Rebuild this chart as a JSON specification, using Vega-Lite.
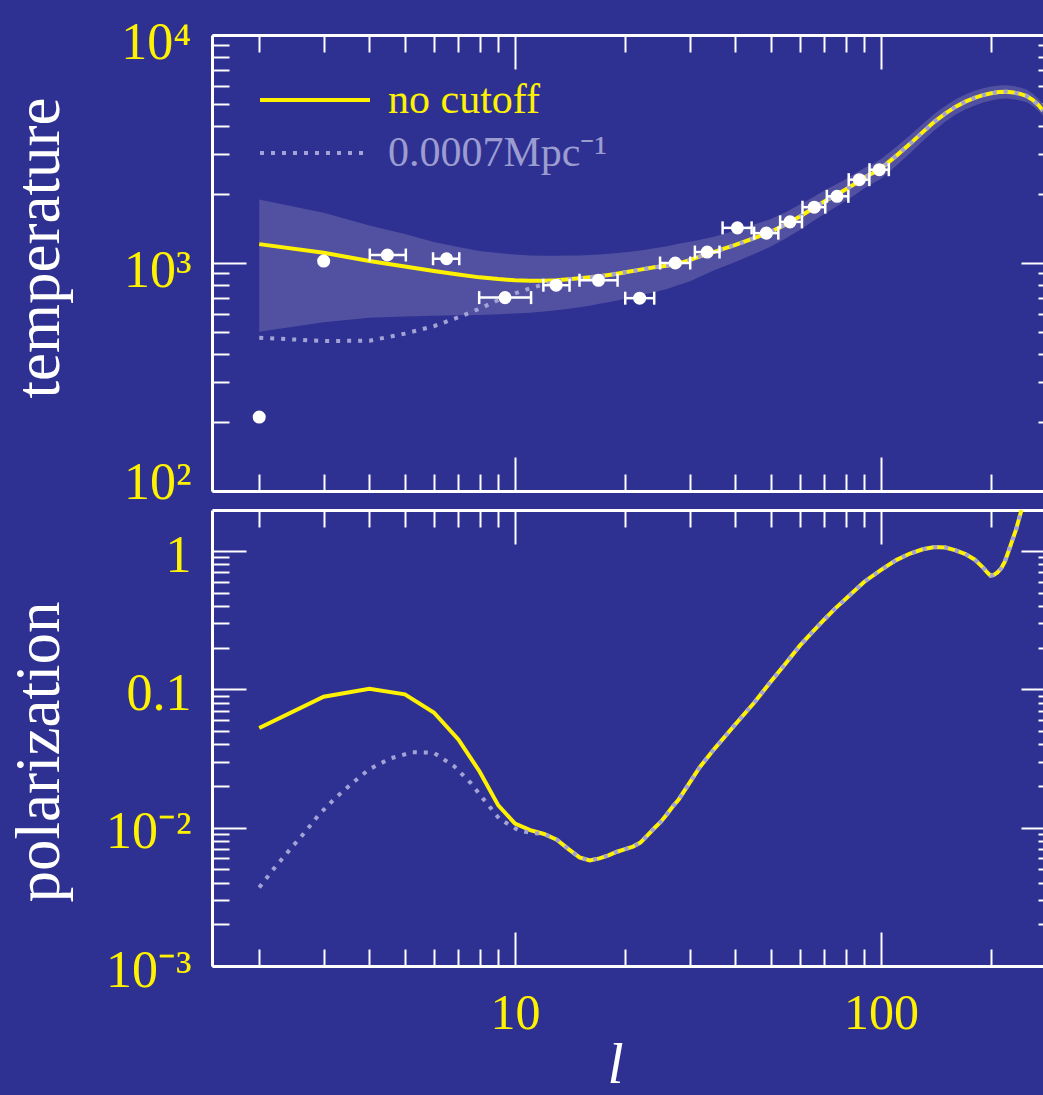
{
  "$schema": "https://vega.github.io/schema/vega-lite/v6.json",
  "background": "#2e3192",
  "autosize": {"type": "none"},
  "padding": {"left": 212, "top": 35, "right": 0, "bottom": 129},
  "width": 831,
  "height": 931,
  "config": {
    "view": {"stroke": null},
    "axis": {"tickColor": "#ffffff", "tickWidth": 2, "domainColor": "#ffffff", "domainWidth": 3, "grid": false, "labels": false}
  },
  "datasets": {
    "top": [
      {"l": 2, "nocut": 1210, "cut": 470, "lo": 500, "hi": 1900},
      {"l": 3, "nocut": 1110, "cut": 455, "lo": 550, "hi": 1660},
      {"l": 4, "nocut": 1020, "cut": 456, "lo": 575, "hi": 1460},
      {"l": 5, "nocut": 965, "cut": 490, "lo": 582, "hi": 1340},
      {"l": 6, "nocut": 923, "cut": 528, "lo": 587, "hi": 1235},
      {"l": 7, "nocut": 890, "cut": 578, "lo": 590, "hi": 1175},
      {"l": 8, "nocut": 865, "cut": 630, "lo": 592, "hi": 1130},
      {"l": 9, "nocut": 850, "cut": 688, "lo": 596, "hi": 1105},
      {"l": 10, "nocut": 840, "cut": 735, "lo": 600, "hi": 1090},
      {"l": 11, "nocut": 836, "cut": 775, "lo": 605, "hi": 1080},
      {"l": 12, "nocut": 835, "cut": 805, "lo": 612, "hi": 1076},
      {"l": 13, "nocut": 840, "cut": 830, "lo": 620, "hi": 1076},
      {"l": 14, "nocut": 848, "cut": 847, "lo": 630, "hi": 1078},
      {"l": 15, "nocut": 857, "cut": 857, "lo": 640, "hi": 1080},
      {"l": 16, "nocut": 866, "cut": 866, "lo": 650, "hi": 1085},
      {"l": 17, "nocut": 875, "cut": 875, "lo": 662, "hi": 1090},
      {"l": 18, "nocut": 886, "cut": 886, "lo": 673, "hi": 1098},
      {"l": 19, "nocut": 898, "cut": 898, "lo": 685, "hi": 1106},
      {"l": 20, "nocut": 910, "cut": 910, "lo": 697, "hi": 1115},
      {"l": 22, "nocut": 935, "cut": 935, "lo": 720, "hi": 1135},
      {"l": 24, "nocut": 958, "cut": 958, "lo": 745, "hi": 1160},
      {"l": 26, "nocut": 972, "cut": 972, "lo": 770, "hi": 1185},
      {"l": 28, "nocut": 997, "cut": 997, "lo": 800, "hi": 1215},
      {"l": 30, "nocut": 1030, "cut": 1030, "lo": 830, "hi": 1240},
      {"l": 32, "nocut": 1068, "cut": 1068, "lo": 870, "hi": 1265},
      {"l": 35, "nocut": 1120, "cut": 1120, "lo": 930, "hi": 1305},
      {"l": 40, "nocut": 1200, "cut": 1200, "lo": 1010, "hi": 1390},
      {"l": 45, "nocut": 1285, "cut": 1285, "lo": 1095, "hi": 1475},
      {"l": 50, "nocut": 1370, "cut": 1370, "lo": 1180, "hi": 1560},
      {"l": 55, "nocut": 1480, "cut": 1480, "lo": 1285, "hi": 1675},
      {"l": 60, "nocut": 1600, "cut": 1600, "lo": 1395, "hi": 1805},
      {"l": 65, "nocut": 1730, "cut": 1730, "lo": 1520, "hi": 1940},
      {"l": 70, "nocut": 1860, "cut": 1860, "lo": 1640, "hi": 2080},
      {"l": 75, "nocut": 1980, "cut": 1980, "lo": 1755, "hi": 2205},
      {"l": 80, "nocut": 2100, "cut": 2100, "lo": 1870, "hi": 2330},
      {"l": 85, "nocut": 2230, "cut": 2230, "lo": 1990, "hi": 2470},
      {"l": 90, "nocut": 2370, "cut": 2370, "lo": 2130, "hi": 2610},
      {"l": 95, "nocut": 2480, "cut": 2480, "lo": 2240, "hi": 2720},
      {"l": 100, "nocut": 2600, "cut": 2600, "lo": 2340, "hi": 2860},
      {"l": 110, "nocut": 2950, "cut": 2950, "lo": 2670, "hi": 3230},
      {"l": 120, "nocut": 3330, "cut": 3330, "lo": 3030, "hi": 3630},
      {"l": 130, "nocut": 3750, "cut": 3750, "lo": 3430, "hi": 4070},
      {"l": 140, "nocut": 4170, "cut": 4170, "lo": 3820, "hi": 4520},
      {"l": 150, "nocut": 4530, "cut": 4530, "lo": 4170, "hi": 4890},
      {"l": 160, "nocut": 4850, "cut": 4850, "lo": 4480, "hi": 5220},
      {"l": 170, "nocut": 5100, "cut": 5100, "lo": 4710, "hi": 5490},
      {"l": 180, "nocut": 5300, "cut": 5300, "lo": 4900, "hi": 5700},
      {"l": 190, "nocut": 5450, "cut": 5450, "lo": 5060, "hi": 5840},
      {"l": 200, "nocut": 5550, "cut": 5550, "lo": 5160, "hi": 5940},
      {"l": 210, "nocut": 5620, "cut": 5620, "lo": 5240, "hi": 6000},
      {"l": 220, "nocut": 5640, "cut": 5640, "lo": 5260, "hi": 6020},
      {"l": 230, "nocut": 5600, "cut": 5600, "lo": 5230, "hi": 5970},
      {"l": 240, "nocut": 5520, "cut": 5520, "lo": 5160, "hi": 5880},
      {"l": 250, "nocut": 5400, "cut": 5400, "lo": 5070, "hi": 5760},
      {"l": 260, "nocut": 5180, "cut": 5180, "lo": 4880, "hi": 5520},
      {"l": 270, "nocut": 4900, "cut": 4900, "lo": 4630, "hi": 5220},
      {"l": 277, "nocut": 4650, "cut": 4650, "lo": 4420, "hi": 4960}
    ],
    "pts": [
      {"l": 2, "T": 211},
      {"l": 3, "T": 1020},
      {"l": 4.48, "T": 1084, "lo": 4.01, "hi": 5.03},
      {"l": 6.5, "T": 1044, "lo": 5.97, "hi": 7.04},
      {"l": 9.39, "T": 705, "lo": 7.98, "hi": 11.06},
      {"l": 12.95, "T": 799, "lo": 11.95, "hi": 14.09},
      {"l": 16.9, "T": 840, "lo": 15.0, "hi": 19.06},
      {"l": 21.9, "T": 701, "lo": 20.0, "hi": 24.0},
      {"l": 27.4, "T": 1000, "lo": 24.9, "hi": 30.1},
      {"l": 33.5, "T": 1117, "lo": 31.0, "hi": 36.2},
      {"l": 40.5, "T": 1426, "lo": 36.9, "hi": 44.3},
      {"l": 48.6, "T": 1352, "lo": 45.0, "hi": 52.4},
      {"l": 56.4, "T": 1515, "lo": 53.0, "hi": 60.8},
      {"l": 65.7, "T": 1757, "lo": 61.0, "hi": 70.4},
      {"l": 75.8, "T": 1961, "lo": 71.1, "hi": 81.4},
      {"l": 87.2, "T": 2320, "lo": 81.6, "hi": 92.9},
      {"l": 98.9, "T": 2566, "lo": 93.0, "hi": 105}
    ],
    "by": [
      {"l": 2, "P": 0.0525}, {"l": 3, "P": 0.0885}, {"l": 4, "P": 0.101}, {"l": 5, "P": 0.092},
      {"l": 6, "P": 0.068}, {"l": 7, "P": 0.0434}, {"l": 8, "P": 0.0255}, {"l": 9, "P": 0.0145},
      {"l": 10, "P": 0.0107}, {"l": 11, "P": 0.0096}, {"l": 12, "P": 0.009}, {"l": 13, "P": 0.0082},
      {"l": 14, "P": 0.007}, {"l": 15, "P": 0.0061}, {"l": 16, "P": 0.0058}, {"l": 17, "P": 0.006},
      {"l": 18, "P": 0.0063}, {"l": 19, "P": 0.0067}, {"l": 20, "P": 0.007}, {"l": 21, "P": 0.0073},
      {"l": 22, "P": 0.0078}, {"l": 23, "P": 0.0088}, {"l": 24, "P": 0.0099}, {"l": 25, "P": 0.011},
      {"l": 26, "P": 0.0125}, {"l": 27, "P": 0.0143}, {"l": 28, "P": 0.016}, {"l": 30, "P": 0.0212},
      {"l": 32, "P": 0.0275}, {"l": 35, "P": 0.037}, {"l": 40, "P": 0.056}, {"l": 45, "P": 0.08},
      {"l": 50, "P": 0.114}, {"l": 55, "P": 0.155}, {"l": 60, "P": 0.207}, {"l": 65, "P": 0.26},
      {"l": 70, "P": 0.32}, {"l": 75, "P": 0.385}, {"l": 80, "P": 0.45}, {"l": 90, "P": 0.6},
      {"l": 100, "P": 0.73}, {"l": 110, "P": 0.86}, {"l": 120, "P": 0.96}, {"l": 130, "P": 1.03},
      {"l": 140, "P": 1.07}, {"l": 150, "P": 1.06}, {"l": 160, "P": 1.01}, {"l": 170, "P": 0.95},
      {"l": 180, "P": 0.87}, {"l": 190, "P": 0.76}, {"l": 195, "P": 0.7}, {"l": 199, "P": 0.665},
      {"l": 203, "P": 0.67}, {"l": 208, "P": 0.7}, {"l": 213, "P": 0.75}, {"l": 218, "P": 0.84},
      {"l": 224, "P": 1.03}, {"l": 229, "P": 1.22}, {"l": 234, "P": 1.44}, {"l": 238, "P": 1.7},
      {"l": 242, "P": 1.98}
    ],
    "bd": [
      {"l": 2, "P": 0.0037}, {"l": 2.2, "P": 0.0051}, {"l": 2.42, "P": 0.0069}, {"l": 2.66, "P": 0.0092},
      {"l": 2.91, "P": 0.0124}, {"l": 3.23, "P": 0.0164}, {"l": 3.6, "P": 0.0211}, {"l": 4.0, "P": 0.0265},
      {"l": 4.58, "P": 0.0318}, {"l": 5.25, "P": 0.0351}, {"l": 6.0, "P": 0.0348}, {"l": 6.82, "P": 0.0278},
      {"l": 7.56, "P": 0.0211}, {"l": 8.29, "P": 0.0155}, {"l": 9.06, "P": 0.0116}, {"l": 10.2, "P": 0.0096},
      {"l": 11, "P": 0.0092}, {"l": 12, "P": 0.009}, {"l": 13, "P": 0.0082},
      {"l": 14, "P": 0.007}, {"l": 15, "P": 0.0061}, {"l": 16, "P": 0.0058}, {"l": 17, "P": 0.006},
      {"l": 18, "P": 0.0063}, {"l": 19, "P": 0.0067}, {"l": 20, "P": 0.007}, {"l": 21, "P": 0.0073},
      {"l": 22, "P": 0.0078}, {"l": 23, "P": 0.0088}, {"l": 24, "P": 0.0099}, {"l": 25, "P": 0.011},
      {"l": 26, "P": 0.0125}, {"l": 27, "P": 0.0143}, {"l": 28, "P": 0.016}, {"l": 30, "P": 0.0212},
      {"l": 32, "P": 0.0275}, {"l": 35, "P": 0.037}, {"l": 40, "P": 0.056}, {"l": 45, "P": 0.08},
      {"l": 50, "P": 0.114}, {"l": 55, "P": 0.155}, {"l": 60, "P": 0.207}, {"l": 65, "P": 0.26},
      {"l": 70, "P": 0.32}, {"l": 75, "P": 0.385}, {"l": 80, "P": 0.45}, {"l": 90, "P": 0.6},
      {"l": 100, "P": 0.73}, {"l": 110, "P": 0.86}, {"l": 120, "P": 0.96}, {"l": 130, "P": 1.03},
      {"l": 140, "P": 1.07}, {"l": 150, "P": 1.06}, {"l": 160, "P": 1.01}, {"l": 170, "P": 0.95},
      {"l": 180, "P": 0.87}, {"l": 190, "P": 0.76}, {"l": 195, "P": 0.7}, {"l": 199, "P": 0.665},
      {"l": 203, "P": 0.67}, {"l": 208, "P": 0.7}, {"l": 213, "P": 0.75}, {"l": 218, "P": 0.84},
      {"l": 224, "P": 1.03}, {"l": 229, "P": 1.22}, {"l": 234, "P": 1.44}, {"l": 238, "P": 1.7},
      {"l": 242, "P": 1.98}
    ]
  },
  "resolve": {
    "scale": {"x": "shared", "y": "independent", "stroke": "independent"},
    "axis": {"x": "independent", "y": "independent"},
    "legend": {"stroke": "independent"}
  },
  "layer": [
    {
      "data": {"name": "top"},
      "mark": {"type": "area", "color": "#5250a0", "opacity": 1},
      "encoding": {
        "x": {"field": "l", "type": "quantitative", "scale": {"type": "log", "domain": [1.486, 277], "nice": false},
          "axis": {"orient": "bottom", "values": [10, 100], "ticks": false, "domain": false, "labels": true,
            "labelExpr": "datum.value < 50 ? '10' : '100'", "labelFont": "Liberation Serif", "labelFontSize": 50,
            "labelColor": "#fff200", "labelPadding": 22, "labelFlush": false, "labelOverlap": false,
            "title": "l", "titleFont": "Liberation Serif", "titleFontStyle": "italic", "titleFontSize": 58,
            "titleFontWeight": "normal", "titleColor": "#ffffff", "titleX": 403, "titleY": 116,
            "titleBaseline": "alphabetic", "titleAlign": "center"}},
        "y": {"field": "lo", "type": "quantitative", "scale": {"type": "log", "domain": [100, 10000], "range": [456, 0], "nice": false},
          "axis": {"orient": "left", "values": [1000, 10000], "ticks": false, "domain": false, "labels": true,
            "labelExpr": "datum.value > 5000 ? '10⁴' : '10³'", "labelFont": "Liberation Serif", "labelFontSize": 52,
            "labelColor": "#fff200", "labelPadding": 21, "labelBaseline": "alphabetic", "labelOffset": 23,
            "labelFlush": false, "labelOverlap": false,
            "title": "temperature", "titleFont": "Liberation Serif", "titleFontSize": 63, "titleFontWeight": "normal",
            "titleColor": "#ffffff", "titleX": -154, "titleY": 212.5, "titleAngle": 270,
            "titleBaseline": "alphabetic", "titleAlign": "center"}},
        "y2": {"field": "hi"}
      }
    },
    {
      "data": {"name": "top"},
      "mark": {"type": "line", "strokeWidth": 4, "interpolate": "linear"},
      "encoding": {
        "x": {"field": "l", "type": "quantitative", "scale": {"type": "log", "domain": [1.486, 277], "nice": false},
          "axis": {"orient": "bottom", "values": [10, 100], "tickSize": -34, "domain": true, "title": null}},
        "y": {"field": "nocut", "type": "quantitative", "scale": {"type": "log", "domain": [100, 10000], "range": [456, 0], "nice": false},
          "axis": {"orient": "left", "values": [100, 1000, 10000], "tickSize": -34, "domain": true, "title": null}},
        "stroke": {"datum": "no cutoff", "type": "nominal", "scale": {"domain": ["no cutoff"], "range": ["#fff200"]},
          "legend": {"orient": "none", "legendX": 46, "legendY": 8, "title": null, "symbolType": "stroke",
            "symbolSize": 12100, "symbolStrokeWidth": 4, "labelFont": "Liberation Serif", "labelFontSize": 42,
            "labelColor": "#fff200", "labelOffset": 16, "padding": 0, "labelLimit": 0}}
      }
    },
    {
      "data": {"name": "top"},
      "mark": {"type": "line", "strokeWidth": 4, "strokeDash": [4, 7], "interpolate": "linear"},
      "encoding": {
        "x": {"field": "l", "type": "quantitative", "scale": {"type": "log", "domain": [1.486, 277], "nice": false},
          "axis": {"orient": "bottom", "values": [2, 3, 4, 5, 6, 7, 8, 9, 20, 30, 40, 50, 60, 70, 80, 90, 200], "tickSize": -17, "domain": false, "title": null}},
        "y": {"field": "cut", "type": "quantitative", "scale": {"type": "log", "domain": [100, 10000], "range": [456, 0], "nice": false},
          "axis": {"orient": "left", "values": [200, 300, 400, 500, 600, 700, 800, 900, 2000, 3000, 4000, 5000, 6000, 7000, 8000, 9000], "tickSize": -17, "domain": false, "title": null}},
        "stroke": {"datum": "0.0007Mpc⁻¹", "type": "nominal", "scale": {"domain": ["0.0007Mpc⁻¹"], "range": ["#a3a3d6"]},
          "legend": {"orient": "none", "legendX": 46, "legendY": 61, "title": null, "symbolType": "stroke",
            "symbolSize": 12100, "symbolStrokeWidth": 4, "symbolDash": [4, 7], "labelFont": "Liberation Serif", "labelFontSize": 42,
            "labelColor": "#9c9cd0", "labelOffset": 16, "padding": 0, "labelLimit": 0}}
      }
    },
    {
      "data": {"name": "pts"},
      "transform": [{"filter": "isValid(datum.lo)"}],
      "mark": {"type": "rule", "color": "#ffffff", "strokeWidth": 2.5},
      "encoding": {
        "x": {"field": "lo", "type": "quantitative", "scale": {"type": "log", "domain": [1.486, 277], "nice": false},
          "axis": {"orient": "top", "values": [10, 100], "tickSize": -34, "domain": true, "title": null}},
        "x2": {"field": "hi"},
        "y": {"field": "T", "type": "quantitative", "scale": {"type": "log", "domain": [100, 10000], "range": [456, 0], "nice": false},
          "axis": {"orient": "right", "offset": 12, "values": [100, 1000, 10000], "tickSize": -34, "domain": true, "title": null}}
      }
    },
    {
      "data": {"name": "pts"},
      "transform": [{"filter": "isValid(datum.lo)"}],
      "mark": {"type": "tick", "orient": "vertical", "size": 13, "thickness": 2.5, "color": "#ffffff", "opacity": 1},
      "encoding": {
        "x": {"field": "lo", "type": "quantitative", "scale": {"type": "log", "domain": [1.486, 277], "nice": false},
          "axis": {"orient": "top", "values": [2, 3, 4, 5, 6, 7, 8, 9, 20, 30, 40, 50, 60, 70, 80, 90, 200], "tickSize": -17, "domain": false, "title": null}},
        "y": {"field": "T", "type": "quantitative", "scale": {"type": "log", "domain": [100, 10000], "range": [456, 0], "nice": false},
          "axis": {"orient": "right", "offset": 12, "values": [200, 300, 400, 500, 600, 700, 800, 900, 2000, 3000, 4000, 5000, 6000, 7000, 8000, 9000], "tickSize": -17, "domain": false, "title": null}}
      }
    },
    {
      "data": {"name": "pts"},
      "transform": [{"filter": "isValid(datum.lo)"}],
      "mark": {"type": "tick", "orient": "vertical", "size": 13, "thickness": 2.5, "color": "#ffffff", "opacity": 1},
      "encoding": {
        "x": {"field": "hi", "type": "quantitative", "scale": {"type": "log", "domain": [1.486, 277], "nice": false},
          "axis": {"orient": "bottom", "offset": -475, "values": [10, 100], "tickSize": -34, "domain": true, "title": null}},
        "y": {"field": "T", "type": "quantitative", "scale": {"type": "log", "domain": [100, 10000], "range": [456, 0], "nice": false},
          "axis": {"orient": "left", "values": [100], "ticks": false, "domain": false, "labels": true,
            "labelExpr": "'10²'", "labelFont": "Liberation Serif", "labelFontSize": 52,
            "labelColor": "#fff200", "labelPadding": 21, "labelBaseline": "alphabetic", "labelOffset": 7,
            "labelFlush": false, "labelOverlap": false, "title": null}}
      }
    },
    {
      "data": {"name": "pts"},
      "mark": {"type": "circle", "size": 170, "color": "#ffffff", "opacity": 1},
      "encoding": {
        "x": {"field": "l", "type": "quantitative", "scale": {"type": "log", "domain": [1.486, 277], "nice": false},
          "axis": {"orient": "bottom", "offset": -475, "values": [2, 3, 4, 5, 6, 7, 8, 9, 20, 30, 40, 50, 60, 70, 80, 90, 200], "tickSize": -17, "domain": false, "title": null}},
        "y": {"field": "T", "type": "quantitative", "scale": {"type": "log", "domain": [100, 10000], "range": [456, 0], "nice": false}, "axis": null}
      }
    },
    {
      "data": {"name": "by"},
      "mark": {"type": "line", "strokeWidth": 4, "color": "#fff200", "interpolate": "linear"},
      "encoding": {
        "x": {"field": "l", "type": "quantitative", "scale": {"type": "log", "domain": [1.486, 277], "nice": false},
          "axis": {"orient": "top", "offset": -475, "values": [10, 100], "tickSize": -34, "domain": true, "title": null}},
        "y": {"field": "P", "type": "quantitative", "scale": {"type": "log", "domain": [0.001, 1.98], "range": [931, 475], "nice": false},
          "axis": {"orient": "left", "values": [0.001, 0.01, 0.1, 1], "ticks": false, "domain": false, "labels": true,
            "labelExpr": "datum.value > 0.5 ? '1' : datum.value > 0.05 ? '0.1' : datum.value > 0.005 ? '10⁻²' : '10⁻³'",
            "labelFont": "Liberation Serif", "labelFontSize": 52,
            "labelColor": "#fff200", "labelPadding": 21, "labelBaseline": "alphabetic", "labelOffset": 20,
            "labelFlush": false, "labelOverlap": false,
            "title": "polarization", "titleFont": "Liberation Serif", "titleFontSize": 63, "titleFontWeight": "normal",
            "titleColor": "#ffffff", "titleX": -154, "titleY": 716.5, "titleAngle": 270,
            "titleBaseline": "alphabetic", "titleAlign": "center"}}
      }
    },
    {
      "data": {"name": "bd"},
      "mark": {"type": "line", "strokeWidth": 4, "strokeDash": [4, 7], "color": "#a3a3d6", "interpolate": "linear"},
      "encoding": {
        "x": {"field": "l", "type": "quantitative", "scale": {"type": "log", "domain": [1.486, 277], "nice": false},
          "axis": {"orient": "top", "offset": -475, "values": [2, 3, 4, 5, 6, 7, 8, 9, 20, 30, 40, 50, 60, 70, 80, 90, 200], "tickSize": -17, "domain": false, "title": null}},
        "y": {"field": "P", "type": "quantitative", "scale": {"type": "log", "domain": [0.001, 1.98], "range": [931, 475], "nice": false},
          "axis": {"orient": "left", "values": [0.001, 0.01, 0.1, 1], "tickSize": -34, "domain": true, "title": null}}
      }
    },
    {
      "data": {"name": "by"},
      "mark": {"type": "point", "opacity": 0},
      "encoding": {
        "x": {"field": "l", "type": "quantitative", "scale": {"type": "log", "domain": [1.486, 277], "nice": false}, "axis": null},
        "y": {"field": "P", "type": "quantitative", "scale": {"type": "log", "domain": [0.001, 1.98], "range": [931, 475], "nice": false},
          "axis": {"orient": "left", "values": [0.002, 0.003, 0.004, 0.005, 0.006, 0.007, 0.008, 0.009, 0.02, 0.03, 0.04, 0.05, 0.06, 0.07, 0.08, 0.09, 0.2, 0.3, 0.4, 0.5, 0.6, 0.7, 0.8, 0.9], "tickSize": -17, "domain": false, "title": null}}
      }
    },
    {
      "data": {"name": "by"},
      "mark": {"type": "point", "opacity": 0},
      "encoding": {
        "x": {"field": "l", "type": "quantitative", "scale": {"type": "log", "domain": [1.486, 277], "nice": false}, "axis": null},
        "y": {"field": "P", "type": "quantitative", "scale": {"type": "log", "domain": [0.001, 1.98], "range": [931, 475], "nice": false},
          "axis": {"orient": "right", "offset": 12, "values": [0.001, 0.01, 0.1, 1], "tickSize": -34, "domain": true, "title": null}}
      }
    },
    {
      "data": {"name": "by"},
      "mark": {"type": "point", "opacity": 0},
      "encoding": {
        "x": {"field": "l", "type": "quantitative", "scale": {"type": "log", "domain": [1.486, 277], "nice": false}, "axis": null},
        "y": {"field": "P", "type": "quantitative", "scale": {"type": "log", "domain": [0.001, 1.98], "range": [931, 475], "nice": false},
          "axis": {"orient": "right", "offset": 12, "values": [0.002, 0.003, 0.004, 0.005, 0.006, 0.007, 0.008, 0.009, 0.02, 0.03, 0.04, 0.05, 0.06, 0.07, 0.08, 0.09, 0.2, 0.3, 0.4, 0.5, 0.6, 0.7, 0.8, 0.9], "tickSize": -17, "domain": false, "title": null}}
      }
    }
  ]
}
